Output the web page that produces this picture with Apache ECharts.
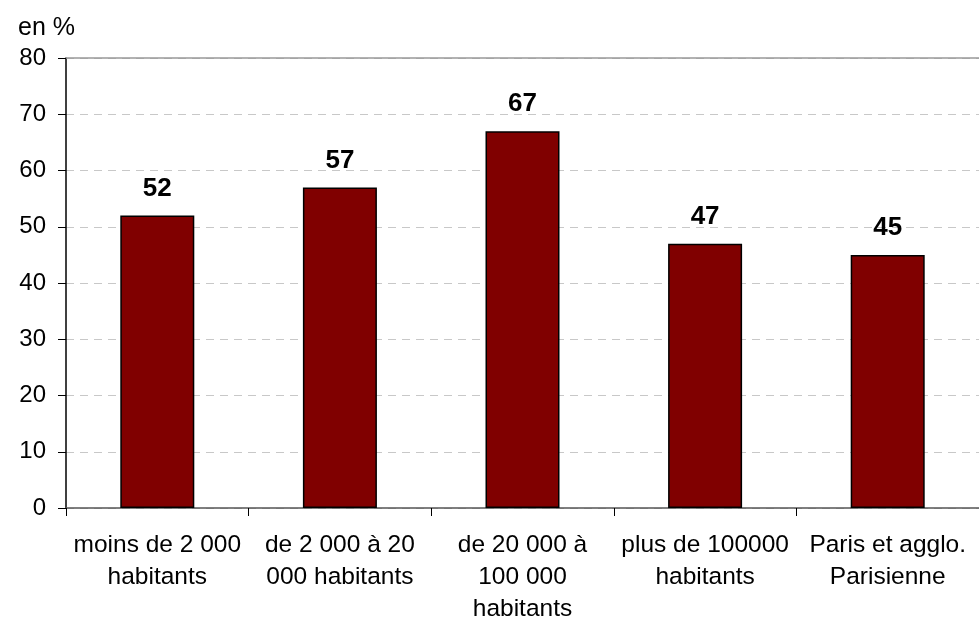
<!DOCTYPE html>
<html><head><meta charset="utf-8">
<script src="https://cdn.jsdelivr.net/npm/echarts@6/dist/echarts.min.js"></script>
<style>html,body{margin:0;padding:0;background:#fff}#c{width:979px;height:625px}</style>
</head><body><div id="c"></div>
<script>
const categories = ["moins de 2 000\nhabitants", "de 2 000 à 20\n000 habitants", "de 20 000 à\n100 000\nhabitants", "plus de 100000\nhabitants", "Paris et agglo.\nParisienne"];
const values = [52, 57, 67, 47, 45];
const yTicks = [0, 10, 20, 30, 40, 50, 60, 70, 80];

const chart = echarts.init(document.getElementById('c'));
chart.setOption({
  animation: false,
  backgroundColor: '#fff',
  grid: { left: 66, top: 58, width: 920, height: 453, containLabel: false },
  xAxis: {
    type: 'category', data: categories,
    axisLine: { lineStyle: { color: '#555', width: 1.5 } },
    axisTick: { show: true, length: 8, lineStyle: { color: '#000' }, alignWithLabel: false },
    axisLabel: { color: '#000', fontFamily: 'Liberation Sans', fontSize: 24.5, lineHeight: 32, margin: 21, interval: 0 }
  },
  yAxis: {
    type: 'value', min: yTicks[0], max: yTicks[yTicks.length - 1], interval: 10,
    name: 'en %', nameLocation: 'end', nameGap: 17,
    nameTextStyle: { color: '#000', fontFamily: 'Liberation Sans', fontSize: 25, align: 'left', padding: [0, 0, 0, -48] },
    axisLine: { show: true, lineStyle: { color: '#000', width: 1.5 } },
    axisTick: { show: true, length: 8, lineStyle: { color: '#000' } },
    axisLabel: { color: '#000', fontFamily: 'Liberation Sans', fontSize: 24, margin: 20 },
    splitLine: { show: true, lineStyle: { color: '#c8c8c8', type: [8, 6], width: 1 } }
  },
  series: [{
    type: 'bar', data: values, barWidth: 74,
    itemStyle: { color: '#800000', borderColor: '#000', borderWidth: 1.5 },
    label: { show: true, position: 'top', distance: 14, color: '#000', fontFamily: 'Liberation Sans', fontWeight: 'bold', fontSize: 26 }
  }],
  graphic: [{
    type: 'line', shape: { x1: 66, y1: 58, x2: 979, y2: 58 },
    style: { stroke: '#999', lineWidth: 1.5 }, z: 10
  }]
});
</script></body></html>
